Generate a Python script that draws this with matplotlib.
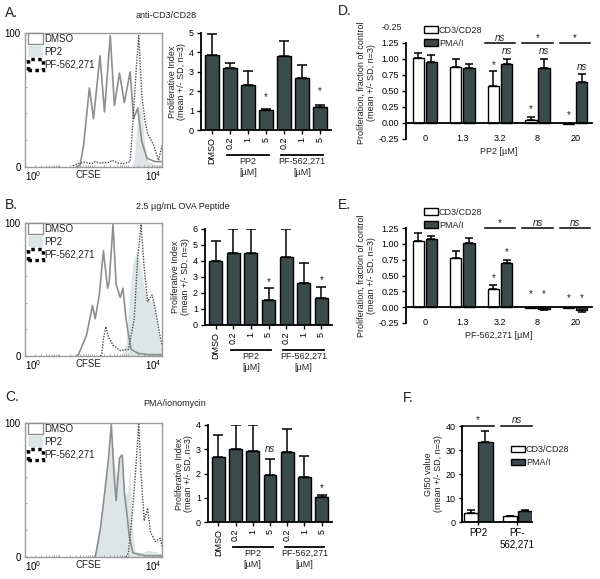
#!/usr/bin/env python3
"""
CFSE dilution histograms, proliferative index and GI50 panels (A-F).
"""

import numpy as np
import matplotlib
matplotlib.use("Agg")
import matplotlib.pyplot as plt
import matplotlib.transforms as mtransforms
from matplotlib.patches import Patch

plt.rcParams['font.family'] = ['Liberation Sans', 'DejaVu Sans']
plt.rcParams['font.size'] = 6.5
plt.rcParams['mathtext.default'] = 'regular'
plt.rcParams['text.color'] = '#222222'
plt.rcParams['axes.labelcolor'] = '#222222'

W, H = 600, 579
DARK = '#3b4a4a'
GREY = '#8e8e8e'
FILL = '#dde6e6'
DOTS = '#4a4a4a'

################################################################################
#                                     DATA                                     #
################################################################################

# CFSE histograms: log10(CFSE) and % of max
a_dmso_x = [1.50, 1.61, 1.71, 1.88, 2.00, 2.19, 2.32, 2.49, 2.61, 2.76, 2.90,
            3.07, 3.17, 3.29, 3.41, 3.56, 3.80, 4.00]
a_dmso_y = [0, 1.5, 16, 59, 36, 83, 41, 98, 46, 70, 48, 71, 36, 44, 19, 6.5, 4, 4]
a_pp2_x = [3.10, 3.20, 3.28, 3.35, 3.42, 3.50, 3.60, 3.80, 4.00]
a_pp2_y = [0, 8, 35, 50, 40, 15, 4, 2, 1]
a_pf_x = [1.40, 1.55, 1.75, 1.95, 2.05, 2.20, 2.45, 2.55, 2.70, 2.90, 3.07,
          3.17, 3.25, 3.32, 3.41, 3.50, 3.58, 3.76, 3.90, 4.00]
a_pf_y = [1, 2.5, 3.5, 2.5, 4, 3, 3.5, 5, 3, 2.5, 4, 41, 74, 98, 54, 35, 25, 16, 5, 16]

b_dmso_x = [1.50, 1.56, 1.80, 1.97, 2.05, 2.17, 2.29, 2.41, 2.46, 2.57, 2.66,
            2.78, 2.86, 2.95, 3.02, 3.10, 3.30, 3.60, 4.00]
b_dmso_y = [0, 1, 16, 38, 28, 46, 79, 51, 56, 99, 54, 44, 51, 28, 16, 5, 2, 1, 1]
b_pp2_x = [2.80, 2.95, 3.05, 3.15, 3.25, 3.35, 3.45, 3.55, 3.65, 3.75, 3.85,
           3.95, 4.00]
b_pp2_y = [0, 10, 45, 70, 78, 72, 55, 45, 42, 40, 25, 10, 5]
b_pf_x = [2.20, 2.24, 2.29, 2.36, 2.44, 2.58, 2.78, 3.02, 3.19, 3.29, 3.39,
          3.48, 3.58, 3.71, 3.80, 3.92, 4.00]
b_pf_y = [0, 1, 13, 22, 14, 8, 4, 5, 28, 74, 99, 66, 41, 46, 36, 18, 8]

c_dmso_x = [2.05, 2.10, 2.20, 2.34, 2.44, 2.52, 2.60, 2.66, 2.76, 2.84, 2.90,
            2.98, 3.05, 3.15, 3.50, 4.00]
c_dmso_y = [0, 6.5, 21, 51, 74, 99, 61, 42, 74, 76, 49, 31, 15, 3, 1, 1]
c_pp2_x = [1.95, 2.05, 2.20, 2.35, 2.45, 2.53, 2.60, 2.68, 2.76, 2.84, 2.92,
           3.00, 3.06, 3.12, 3.20, 3.40, 3.60, 3.80, 4.00]
c_pp2_y = [0, 4, 25, 55, 75, 93, 70, 60, 78, 72, 45, 50, 68, 25, 5, 3, 5, 4, 2]
c_pf_x = [2.95, 3.02, 3.12, 3.22, 3.32, 3.39, 3.48, 3.58, 3.66, 3.80, 3.95, 4.00]
c_pf_y = [0, 3, 29, 61, 99, 61, 27, 36.5, 19, 11.5, 14, 8]

# proliferative index (mean, SD)
pi_labels = ['DMSO', '0.2', '1', '5', '0.2', '1', '5']
pi_a_mean = [3.85, 3.20, 2.30, 1.03, 3.80, 2.67, 1.17]
pi_a_sd = [1.10, 0.26, 0.74, 0.05, 0.78, 0.68, 0.10]
pi_b_mean = [3.97, 4.53, 4.53, 1.57, 4.24, 2.65, 1.67]
pi_b_sd = [1.25, 1.47, 1.47, 0.73, 1.76, 1.25, 0.73]
pi_c_mean = [2.70, 3.00, 2.92, 1.95, 2.87, 1.87, 1.05]
pi_c_sd = [0.90, 1.02, 1.08, 0.65, 0.98, 0.85, 0.08]

# fraction of control vs dose
doses = ['0', '1.3', '3.2', '8', '20']
d_cd3 = [1.02, 0.87, 0.58, 0.05, -0.01]
d_cd3_sd = [0.08, 0.13, 0.24, 0.05, 0.01]
d_pma = [0.96, 0.86, 0.92, 0.86, 0.64]
d_pma_sd = [0.11, 0.06, 0.08, 0.14, 0.12]
e_cd3 = [1.04, 0.78, 0.28, -0.01, -0.01]
e_cd3_sd = [0.13, 0.10, 0.07, 0.01, 0.01]
e_pma = [1.08, 1.02, 0.69, -0.03, -0.05]
e_pma_sd = [0.05, 0.07, 0.06, 0.02, 0.03]

# GI50
gi_labels = ['PP2', 'PF-\n562,271']
gi_cd3 = [3.75, 2.4]
gi_cd3_sd = [1.35, 0.3]
gi_pma = [33.3, 4.6]
gi_pma_sd = [4.5, 0.3]

################################################################################
#                                   HELPERS                                    #
################################################################################

fig = plt.figure(figsize=(W / 100, H / 100), dpi=100)


def add_ax(left, top, right, bottom):
    """Axes from pixel box (top-left origin)."""
    return fig.add_axes([left / W, 1 - bottom / H, (right - left) / W,
                         (bottom - top) / H])


def ftext(x, y, s, **kw):
    fig.text(x / W, 1 - y / H, s, **kw)


def below(ax, px):
    """x in data, y = axis bottom shifted down by px pixels."""
    return ax.get_xaxis_transform() + mtransforms.ScaledTranslation(
        0, -px / 100, fig.dpi_scale_trans)


def errbars(ax, x, mean, sd, lw=1.1, cap=3.5):
    lower = [s if m < 0 else 0 for m, s in zip(mean, sd)]
    upper = [s if m >= 0 else 0 for m, s in zip(mean, sd)]
    ax.errorbar(x, mean, yerr=[lower, upper], fmt='none', ecolor='black',
                elinewidth=lw, capsize=cap, capthick=lw, zorder=3)


def hist_panel(box, dmso, pp2, pf):
    ax = add_ax(*box)
    ax.fill_between(pp2[0], pp2[1], color=FILL, lw=0, zorder=1)
    ax.plot(dmso[0], dmso[1], color=GREY, lw=1.2, zorder=2)
    ax.plot(pf[0], pf[1], color=DOTS, lw=1.0, ls=(0, (1, 1)), zorder=3)
    ax.set_xlim(0, 4)
    ax.set_ylim(0, 100)
    for s in ax.spines.values():
        s.set_color('#9a9a9a')
        s.set_linewidth(1.0)
    ax.set_xticks([0, 4])
    ax.set_xticklabels(['$10^0$', '$10^4$'], fontsize=7)
    ticklabs = ax.get_xticklabels()
    ticklabs[0].set_horizontalalignment('left')
    ticklabs[1].set_horizontalalignment('right')
    ax.set_xticks([np.log10(k * 10 ** d) for d in range(4) for k in range(2, 10)]
                  + [1, 2, 3], minor=True)
    ax.set_yticks([0, 100])
    ax.set_yticklabels(['0', '100'], fontsize=7)
    ax.set_yticks([20, 40, 60, 80], minor=True)
    ax.tick_params(which='both', direction='in', color='#9a9a9a', length=2.5)
    ax.tick_params(which='minor', length=1.5)
    ax.tick_params(axis='x', pad=1.5)
    ax.tick_params(axis='y', pad=3)
    ax.text(1.84, 0, 'CFSE', fontsize=7, ha='center', va='top',
            transform=below(ax, 3))
    handles = [Patch(facecolor='white', edgecolor=GREY, lw=1.0),
               Patch(facecolor=FILL, edgecolor='none'),
               Patch(facecolor='white', edgecolor='black', lw=2.5,
                     linestyle=(0, (1, 1)))]
    ax.legend(handles, ['DMSO', 'PP2', 'PF-562,271'], loc='upper left',
              bbox_to_anchor=(0.02, 1.0), frameon=False, fontsize=7,
              handlelength=1.55, handleheight=1.3, labelspacing=0.25,
              handletextpad=0.15, borderpad=0, borderaxespad=0)
    return ax


def pi_panel(box, ymax, mean, sd, marks):
    ax = add_ax(*box)
    x = np.arange(len(mean))
    ax.bar(x, mean, width=0.75, color=DARK, edgecolor='black', lw=1.0, zorder=2)
    errbars(ax, x, mean, sd)
    ax.set_xlim(-0.6, 6.6)
    ax.set_ylim(0, ymax)
    ax.set_yticks(range(ymax + 1))
    ax.set_xticks(x)
    ax.set_xticklabels(pi_labels, rotation=90, fontsize=6.5)
    ax.spines[['top', 'right']].set_visible(False)
    for s in ('left', 'bottom'):
        ax.spines[s].set_linewidth(1.3)
    ax.tick_params(direction='out', length=3, width=1.0, pad=2)
    ax.set_ylabel('Proliferative Index\n(mean +/- SD, n=3)', fontsize=6.5,
                  labelpad=2, linespacing=1.1)
    for i, y, s in marks:
        ax.text(i, y, s, ha='center', va='center', fontsize=7,
                style='italic' if s == 'ns' else 'normal')
    for x0, x1, lab in [(0.85, 3.15, 'PP2\n[µM]'), (3.85, 6.15, 'PF-562,271\n[µM]')]:
        ax.plot([x0, x1], [0, 0], color='black', lw=1.3, clip_on=False,
                transform=below(ax, 25))
        ax.text((x0 + x1) / 2, 0, lab, ha='center', va='top', fontsize=6.5,
                linespacing=1.35, transform=below(ax, 27))
    return ax


def frac_panel(box, ymax, cd3, cd3_sd, pma, pma_sd, xlabel, marks_cd3,
               marks_pma, lines):
    ax = add_ax(*box)
    x = np.arange(len(cd3))
    off, wid = 0.175, 0.3
    ax.bar(x - off, cd3, width=wid, color='white', edgecolor='black', lw=1.0,
           zorder=2, label='CD3/CD28')
    ax.bar(x + off, pma, width=wid, color=DARK, edgecolor='black', lw=1.0,
           zorder=2, label='PMA/I')
    errbars(ax, x - off, cd3, cd3_sd, cap=3)
    errbars(ax, x + off, pma, pma_sd, cap=3)
    ax.set_xlim(-0.5, 4.45)
    ax.set_ylim(-0.25, ymax)
    ax.set_yticks([-0.25, 0, 0.25, 0.5, 0.75, 1.0, 1.25])
    ax.set_yticklabels(['-0.25', '0.00', '0.25', '0.50', '0.75', '1.00', '1.25'])
    ax.spines[['top', 'right']].set_visible(False)
    ax.spines['left'].set_bounds(-0.25, 1.25)
    ax.spines['bottom'].set_position(('data', 0))
    for s in ('left', 'bottom'):
        ax.spines[s].set_linewidth(1.3)
    ax.set_xticks(x)
    ax.set_xticklabels(doses, fontsize=6.5)
    ax.tick_params(axis='x', length=0, pad=8)
    ax.tick_params(axis='y', direction='out', length=3, width=1.0, pad=2)
    ax.set_xlabel(xlabel, fontsize=6.5, labelpad=3)
    ax.set_ylabel('Proliferation, fraction of control\n(mean +/- SD, n=3)',
                  fontsize=6.5, labelpad=2, linespacing=1.1)
    for i, y, s in marks_cd3:
        ax.text(i - off, y, s, ha='center', va='center', fontsize=7,
                style='italic' if s == 'ns' else 'normal')
    for i, y, s in marks_pma:
        ax.text(i + off, y, s, ha='center', va='center', fontsize=7,
                style='italic' if s == 'ns' else 'normal')
    for i, s in lines:
        ax.plot([i - 0.4, i + 0.4], [1.25, 1.25], color='black', lw=1.1,
                clip_on=False)
        ax.text(i, 1.33, s, ha='center', va='center', fontsize=7,
                style='italic' if s == 'ns' else 'normal')
    return ax


def small_legend(ax, anchor, hh=0.8):
    h, l = ax.get_legend_handles_labels()
    ax.legend(h, l, loc='upper left', bbox_to_anchor=(anchor[0] / W, 1 - anchor[1] / H),
              bbox_transform=fig.transFigure, frameon=False, fontsize=6.5,
              handlelength=1.5, handleheight=hh, labelspacing=0.45,
              handletextpad=0.15, borderpad=0, borderaxespad=0)


################################################################################
#                                    PANELS                                    #
################################################################################

hist_panel((25, 33, 162, 167), (a_dmso_x, a_dmso_y), (a_pp2_x, a_pp2_y),
           (a_pf_x, a_pf_y))
hist_panel((25, 223, 162, 356), (b_dmso_x, b_dmso_y), (b_pp2_x, b_pp2_y),
           (b_pf_x, b_pf_y))
hist_panel((25, 423, 162, 557), (c_dmso_x, c_dmso_y), (c_pp2_x, c_pp2_y),
           (c_pf_x, c_pf_y))

pi_panel((201, 33, 331, 130), 5, pi_a_mean, pi_a_sd,
         [(3, 1.7, '*'), (6, 2.0, '*')])
pi_panel((205, 229, 332, 325), 6, pi_b_mean, pi_b_sd,
         [(3, 2.7, '*'), (6, 2.8, '*')])
pi_panel((208, 425, 332, 522), 4, pi_c_mean, pi_c_sd,
         [(3, 3.0, 'ns'), (6, 1.4, '*')])

ax_d = frac_panel((406, 27, 592, 139), 1.5, d_cd3, d_cd3_sd, d_pma, d_pma_sd,
                  'PP2 [µM]',
                  [(2, 0.91, '*'), (3, 0.21, '*'), (4, 0.13, '*')],
                  [(2, 1.12, 'ns'), (3, 1.12, 'ns'), (4, 0.88, 'ns')],
                  [(2, 'ns'), (3, '*'), (4, '*')])
ax_d.text(-0.02, 1.5, '-0.25', transform=ax_d.get_yaxis_transform(),
          ha='right', va='center', fontsize=6.5)
small_legend(ax_d, (424, 26))

ax_e = frac_panel((406, 228, 592, 323), 1.25, e_cd3, e_cd3_sd, e_pma, e_pma_sd,
                  'PF-562,271 [µM]',
                  [(2, 0.46, '*'), (3, 0.2, '*'), (4, 0.15, '*')],
                  [(2, 0.87, '*'), (3, 0.2, '*'), (4, 0.15, '*')],
                  [(2, '*'), (3, 'ns'), (4, 'ns')])
small_legend(ax_e, (424, 208))

# F: GI50
ax_f = add_ax(462, 426, 532, 522)
xf = np.arange(len(gi_cd3))
ax_f.bar(xf - 0.19, gi_cd3, width=0.36, color='white', edgecolor='black',
         lw=1.0, zorder=2, label='CD3/CD28')
ax_f.bar(xf + 0.19, gi_pma, width=0.36, color=DARK, edgecolor='black',
         lw=1.0, zorder=2, label='PMA/I')
errbars(ax_f, xf - 0.19, gi_cd3, gi_cd3_sd, cap=3)
errbars(ax_f, xf + 0.19, gi_pma, gi_pma_sd, cap=3)
ax_f.set_xlim(-0.41, 1.38)
ax_f.set_ylim(0, 40)
ax_f.set_yticks([0, 10, 20, 30, 40])
ax_f.set_xticks(xf)
ax_f.set_xticklabels(gi_labels, fontsize=7, linespacing=1.2)
ax_f.spines[['top', 'right']].set_visible(False)
for s in ('left', 'bottom'):
    ax_f.spines[s].set_linewidth(1.3)
ax_f.tick_params(direction='out', length=2.5, width=1.0, pad=2)
ax_f.set_ylabel('GI50 value\n(mean +/- SD, n=3)', fontsize=6.5, labelpad=2,
                linespacing=1.1)
for x0, x1, s in [(-0.41, 0.4, '*'), (0.6, 1.38, 'ns')]:
    ax_f.plot([x0, x1], [40, 40], color='black', lw=1.1, clip_on=False)
    ax_f.text((x0 + x1) / 2, 42.5, s, ha='center', va='center', fontsize=7,
              style='italic' if s == 'ns' else 'normal')
small_legend(ax_f, (511, 445), hh=0.7)

# panel letters and titles
for x, y, s in [(5, 13, 'A.'), (5, 205, 'B.'), (5, 397, 'C.'),
                (338, 11, 'D.'), (338, 205, 'E.'), (403, 398, 'F.')]:
    ftext(x, y, s, fontsize=10, va='center', ha='left')
ftext(166, 15, 'anti-CD3/CD28', fontsize=6.5, ha='center', va='center')
ftext(183, 206, '2.5 µg/mL OVA Peptide', fontsize=6.5, ha='center', va='center')
ftext(175, 403, 'PMA/ionomycin', fontsize=6.5, ha='center', va='center')

fig.savefig('out.png', dpi=100)
